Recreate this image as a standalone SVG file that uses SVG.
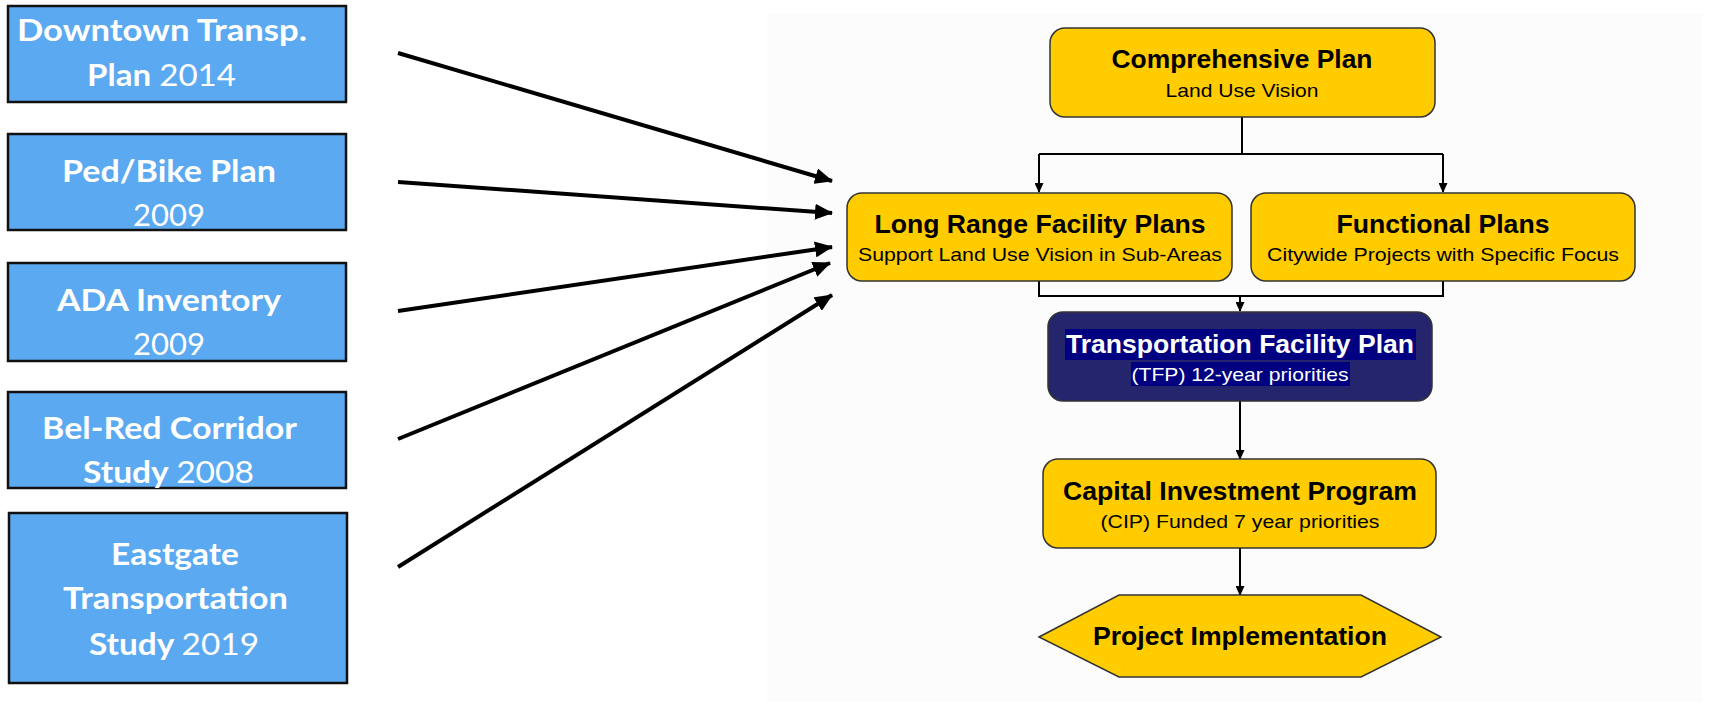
<svg xmlns="http://www.w3.org/2000/svg" width="1719" height="727" viewBox="0 0 1719 727">
<style>
.src{fill:#5BA9F1;stroke:#111;stroke-width:2.5}
.st{font-family:Lato,"Open Sans",sans-serif;font-size:31px;fill:#fff;text-anchor:middle}
.b{font-weight:bold}
.n{font-weight:normal}
.yel{fill:#FFCC00;stroke:#333;stroke-width:1.5}
.navy{fill:#25256E;stroke:#333;stroke-width:1.5}
.t{font-family:"Liberation Sans",Arial,sans-serif;font-size:25px;font-weight:bold;text-anchor:middle;fill:#000}
.s{font-family:"Liberation Sans",Arial,sans-serif;font-size:19px;text-anchor:middle;fill:#000}
.w{fill:#fff}
.thick{stroke:#000;stroke-width:4;fill:none}
.thin{stroke:#000;stroke-width:2;fill:none}
</style>
<defs>
<marker id="big" markerUnits="userSpaceOnUse" markerWidth="18" markerHeight="16" refX="17" refY="8" orient="auto">
<path d="M0,0 L18,8 L0,16 z" fill="#000"/>
</marker>
<marker id="sm" markerUnits="userSpaceOnUse" markerWidth="10" markerHeight="9" refX="9" refY="4.5" orient="auto">
<path d="M0,0 L10,4.5 L0,9 z" fill="#000"/>
</marker>
</defs>
<rect x="0" y="0" width="1719" height="727" fill="#fff"/>
<rect x="767" y="14" width="935" height="688" fill="#FCFCFC"/>

<g id="downtown">
<rect class="src" x="8" y="6" width="338" height="96"/>
<text class="st b" x="162" y="41" textLength="290" lengthAdjust="spacingAndGlyphs">Downtown Transp.</text>
<text class="st" x="161.5" y="86" textLength="149" lengthAdjust="spacingAndGlyphs"><tspan class="b">Plan </tspan><tspan class="n">2014</tspan></text>
</g>
<g id="pedbike">
<rect class="src" x="8" y="134" width="338" height="96"/>
<text class="st b" x="169" y="182" textLength="214" lengthAdjust="spacingAndGlyphs">Ped/Bike Plan</text>
<text class="st n" x="169" y="226" textLength="72" lengthAdjust="spacingAndGlyphs">2009</text>
</g>
<g id="ada">
<rect class="src" x="8" y="263" width="338" height="98"/>
<text class="st b" x="169" y="311" textLength="224" lengthAdjust="spacingAndGlyphs">ADA Inventory</text>
<text class="st n" x="169" y="355" textLength="72" lengthAdjust="spacingAndGlyphs">2009</text>
</g>
<g id="belred">
<rect class="src" x="8" y="392" width="338" height="96"/>
<text class="st b" x="169.5" y="439" textLength="255" lengthAdjust="spacingAndGlyphs">Bel-Red Corridor</text>
<text class="st" x="168.5" y="483" textLength="171" lengthAdjust="spacingAndGlyphs"><tspan class="b">Study </tspan><tspan class="n">2008</tspan></text>
</g>
<g id="eastgate">
<rect class="src" x="9" y="513" width="338" height="170"/>
<text class="st b" x="175" y="565" textLength="128" lengthAdjust="spacingAndGlyphs">Eastgate</text>
<text class="st b" x="175.5" y="609" textLength="225" lengthAdjust="spacingAndGlyphs">Transportation</text>
<text class="st" x="174" y="655" textLength="170" lengthAdjust="spacingAndGlyphs"><tspan class="b">Study </tspan><tspan class="n">2019</tspan></text>
</g>

<g id="connectors">
<line class="thick" x1="398" y1="53" x2="832" y2="181" marker-end="url(#big)"/>
<line class="thick" x1="398" y1="182" x2="832" y2="213" marker-end="url(#big)"/>
<line class="thick" x1="398" y1="311" x2="832" y2="247" marker-end="url(#big)"/>
<line class="thick" x1="398" y1="439" x2="830" y2="263" marker-end="url(#big)"/>
<line class="thick" x1="398" y1="567" x2="832" y2="295" marker-end="url(#big)"/>
<polyline class="thin" points="1242,117 1242,154"/>
<polyline class="thin" points="1039,154 1443,154"/>
<polyline class="thin" points="1039,154 1039,192" marker-end="url(#sm)"/>
<polyline class="thin" points="1443,154 1443,192" marker-end="url(#sm)"/>
<polyline class="thin" points="1039,281 1039,296 1443,296 1443,281"/>
<polyline class="thin" points="1240,296 1240,311" marker-end="url(#sm)"/>
<polyline class="thin" points="1240,401 1240,459" marker-end="url(#sm)"/>
<polyline class="thin" points="1240,548 1240,595" marker-end="url(#sm)"/>
</g>

<g id="comprehensive">
<rect class="yel" x="1050" y="28" width="385" height="89" rx="15"/>
<text class="t" x="1242" y="68" textLength="261" lengthAdjust="spacingAndGlyphs">Comprehensive Plan</text>
<text class="s" x="1242" y="97" textLength="153" lengthAdjust="spacingAndGlyphs">Land Use Vision</text>
</g>
<g id="longrange">
<rect class="yel" x="847" y="193" width="385" height="88" rx="15"/>
<text class="t" x="1040" y="233" textLength="331" lengthAdjust="spacingAndGlyphs">Long Range Facility Plans</text>
<text class="s" x="1040" y="261" textLength="364" lengthAdjust="spacingAndGlyphs">Support Land Use Vision in Sub-Areas</text>
</g>
<g id="functional">
<rect class="yel" x="1251" y="193" width="384" height="88" rx="15"/>
<text class="t" x="1443" y="233" textLength="213" lengthAdjust="spacingAndGlyphs">Functional Plans</text>
<text class="s" x="1443" y="261" textLength="352" lengthAdjust="spacingAndGlyphs">Citywide Projects with Specific Focus</text>
</g>
<g id="tfp">
<rect class="navy" x="1048" y="312" width="384" height="89" rx="15"/>
<rect x="1065" y="329" width="351" height="31" fill="#000080"/>
<rect x="1131" y="362" width="219" height="24" fill="#000080"/>
<text class="t w" x="1240" y="353" textLength="348" lengthAdjust="spacingAndGlyphs">Transportation Facility Plan</text>
<text class="s w" x="1240" y="381" textLength="217" lengthAdjust="spacingAndGlyphs">(TFP) 12-year priorities</text>
</g>
<g id="cip">
<rect class="yel" x="1043" y="459" width="393" height="89" rx="15"/>
<text class="t" x="1240" y="500" textLength="354" lengthAdjust="spacingAndGlyphs">Capital Investment Program</text>
<text class="s" x="1240" y="528" textLength="279" lengthAdjust="spacingAndGlyphs">(CIP) Funded 7 year priorities</text>
</g>
<g id="implementation">
<polygon class="yel" points="1039,637 1119,595 1361,595 1441,637 1361,677 1119,677"/>
<text class="t" x="1240" y="645" textLength="294" lengthAdjust="spacingAndGlyphs">Project Implementation</text>
</g>
</svg>
